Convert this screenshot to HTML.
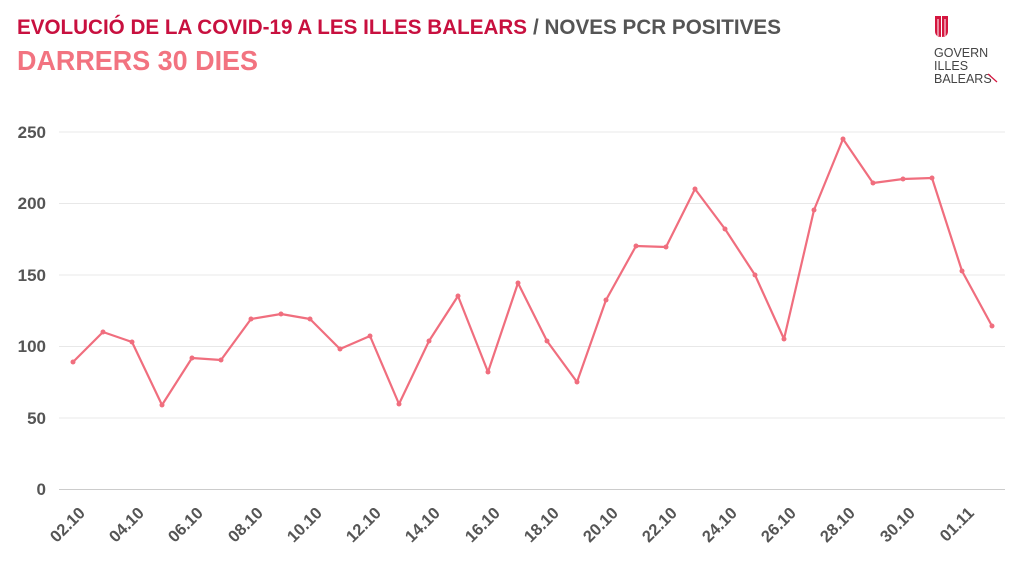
<!DOCTYPE html>
<html><head><meta charset="utf-8"><style>
html,body{margin:0;padding:0;background:#fff;width:1024px;height:576px;overflow:hidden}
svg{display:block;font-family:"Liberation Sans",sans-serif}
</style></head><body>
<svg width="1024" height="576" viewBox="0 0 1024 576">
<text x="17" y="34" font-size="21" font-weight="bold" fill="#c8103f" textLength="510" lengthAdjust="spacingAndGlyphs">EVOLUCIÓ DE LA COVID-19 A LES ILLES BALEARS</text>
<text x="533" y="34" font-size="21" font-weight="bold" fill="#555" textLength="248" lengthAdjust="spacingAndGlyphs">/ NOVES PCR POSITIVES</text>
<text x="17" y="70" font-size="28" font-weight="bold" fill="#f27380" textLength="241" lengthAdjust="spacingAndGlyphs">DARRERS 30 DIES</text>
<path d="M935 16 H948 V31 Q948 37 941.5 37 Q935 37 935 31 Z" fill="#d4163f"/>
<g stroke="#fff" stroke-width="1"><line x1="938" y1="19" x2="938" y2="36"/><line x1="941.5" y1="16" x2="941.5" y2="37"/><line x1="945" y1="19" x2="945" y2="36"/></g>
<g font-size="12.5" fill="#444"><text x="934" y="57">GOVERN</text><text x="934" y="70">ILLES</text><text x="934" y="83">BALEARS</text></g>
<line x1="988" y1="74" x2="997" y2="82" stroke="#d4163f" stroke-width="1.2"/>
<g stroke="#e8e8e8" stroke-width="1">
<line x1="59" y1="132" x2="1005" y2="132"/><line x1="59" y1="203.5" x2="1005" y2="203.5"/><line x1="59" y1="275" x2="1005" y2="275"/><line x1="59" y1="346.5" x2="1005" y2="346.5"/><line x1="59" y1="418" x2="1005" y2="418"/>
</g>
<line x1="59" y1="489.5" x2="1005" y2="489.5" stroke="#ccc" stroke-width="1"/>
<g font-size="17" font-weight="bold" fill="#555" text-anchor="end">
<text x="46" y="138">250</text><text x="46" y="209">200</text><text x="46" y="281">150</text><text x="46" y="352">100</text><text x="46" y="424">50</text><text x="46" y="495">0</text>
</g>
<g font-size="16.5" font-weight="bold" fill="#555" text-anchor="end">
<text transform="translate(86,514) rotate(-45)">02.10</text>
<text transform="translate(145,514) rotate(-45)">04.10</text>
<text transform="translate(204,514) rotate(-45)">06.10</text>
<text transform="translate(264,514) rotate(-45)">08.10</text>
<text transform="translate(323,514) rotate(-45)">10.10</text>
<text transform="translate(382,514) rotate(-45)">12.10</text>
<text transform="translate(441,514) rotate(-45)">14.10</text>
<text transform="translate(501,514) rotate(-45)">16.10</text>
<text transform="translate(560,514) rotate(-45)">18.10</text>
<text transform="translate(619,514) rotate(-45)">20.10</text>
<text transform="translate(678,514) rotate(-45)">22.10</text>
<text transform="translate(738,514) rotate(-45)">24.10</text>
<text transform="translate(797,514) rotate(-45)">26.10</text>
<text transform="translate(856,514) rotate(-45)">28.10</text>
<text transform="translate(916,514) rotate(-45)">30.10</text>
<text transform="translate(975,514) rotate(-45)">01.11</text>
</g>
<polyline fill="none" stroke="#f06e7e" stroke-width="2.2" stroke-linejoin="round" points="73,362 103,332 132,342 162,405 192,358 221,360 251,319 281,314 310,319 340,349 370,336 399,404 429,341 458,296 488,372 518,283 547,341 577,382 606,300 636,246 666,247 695,189 725,229 755,275 784,339 814,210 843,139 873,183 903,179 932,178 962,271 992,326"/>
<g fill="#f06e7e">
<circle cx="73" cy="362" r="2.5"/><circle cx="103" cy="332" r="2.5"/><circle cx="132" cy="342" r="2.5"/><circle cx="162" cy="405" r="2.5"/><circle cx="192" cy="358" r="2.5"/><circle cx="221" cy="360" r="2.5"/><circle cx="251" cy="319" r="2.5"/><circle cx="281" cy="314" r="2.5"/><circle cx="310" cy="319" r="2.5"/><circle cx="340" cy="349" r="2.5"/><circle cx="370" cy="336" r="2.5"/><circle cx="399" cy="404" r="2.5"/><circle cx="429" cy="341" r="2.5"/><circle cx="458" cy="296" r="2.5"/><circle cx="488" cy="372" r="2.5"/><circle cx="518" cy="283" r="2.5"/><circle cx="547" cy="341" r="2.5"/><circle cx="577" cy="382" r="2.5"/><circle cx="606" cy="300" r="2.5"/><circle cx="636" cy="246" r="2.5"/><circle cx="666" cy="247" r="2.5"/><circle cx="695" cy="189" r="2.5"/><circle cx="725" cy="229" r="2.5"/><circle cx="755" cy="275" r="2.5"/><circle cx="784" cy="339" r="2.5"/><circle cx="814" cy="210" r="2.5"/><circle cx="843" cy="139" r="2.5"/><circle cx="873" cy="183" r="2.5"/><circle cx="903" cy="179" r="2.5"/><circle cx="932" cy="178" r="2.5"/><circle cx="962" cy="271" r="2.5"/><circle cx="992" cy="326" r="2.5"/>
</g>
</svg>
</body></html>
